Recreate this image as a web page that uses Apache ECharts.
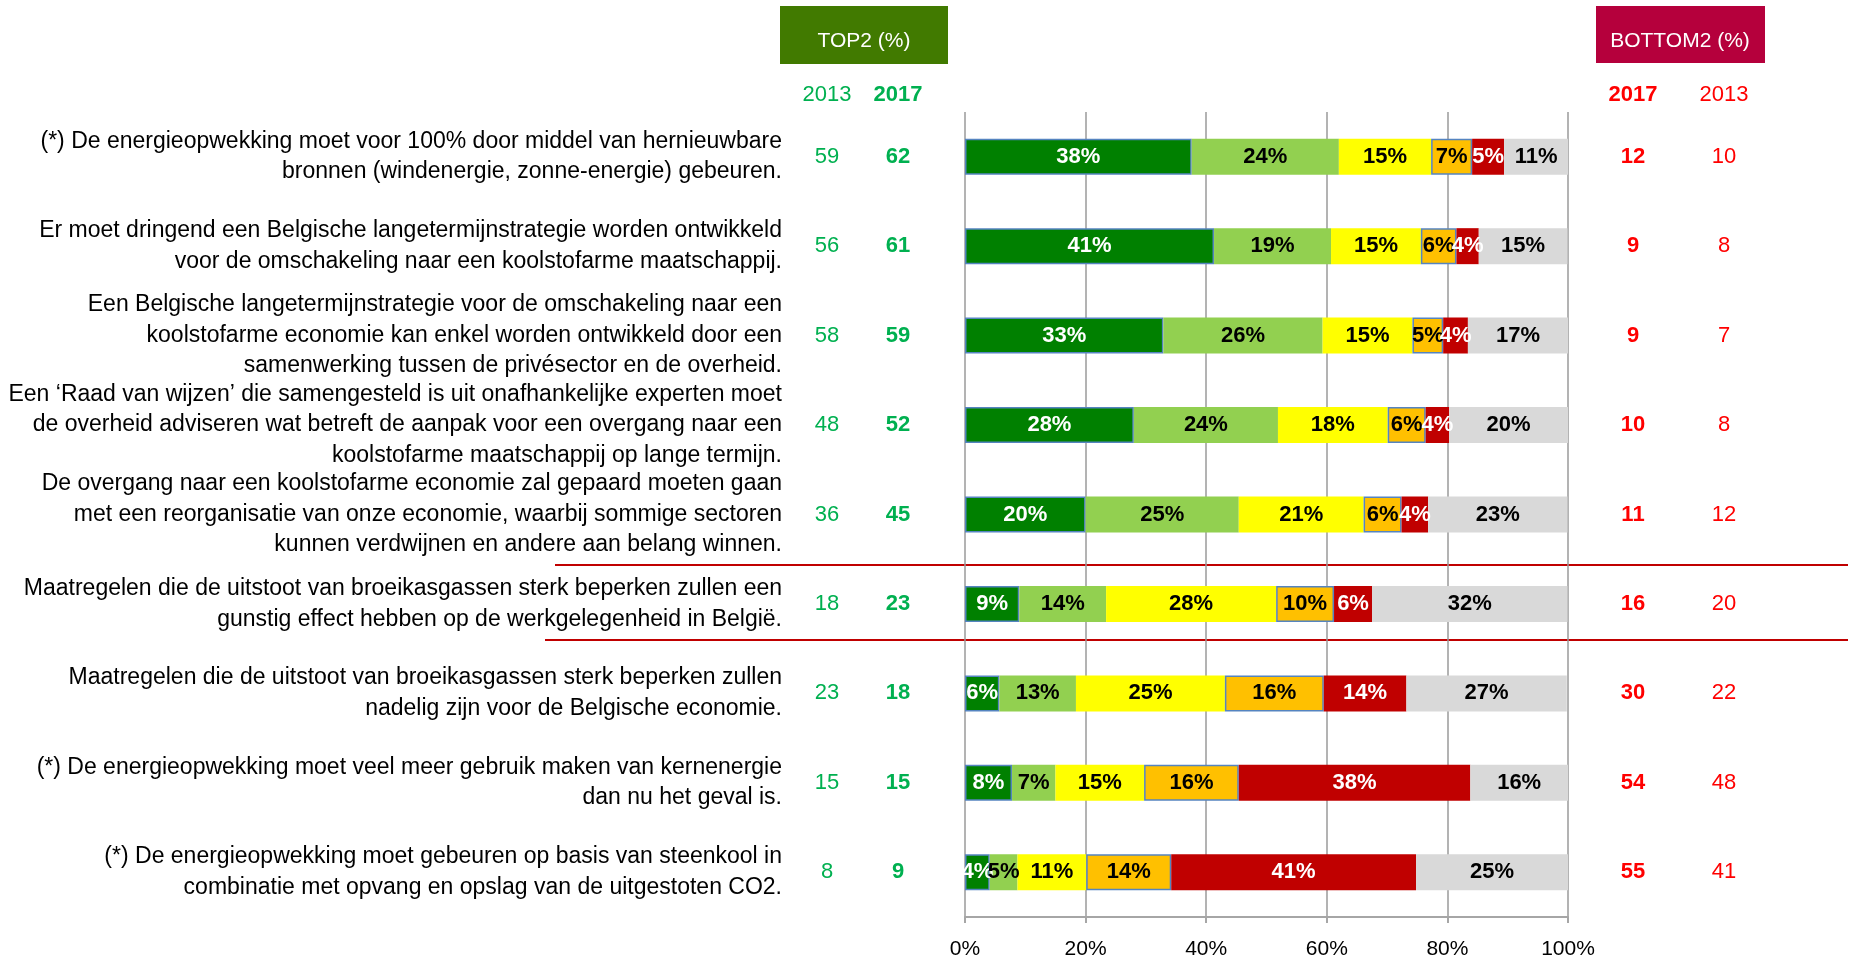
<!DOCTYPE html>
<html>
<head>
<meta charset="utf-8">
<title>Klimaat stellingen</title>
<script src="https://cdn.jsdelivr.net/npm/echarts@6/dist/echarts.min.js"></script>
<style>
  html, body { margin: 0; padding: 0; background: #fff; }
  #main { width: 1853px; height: 961px; }
</style>
</head>
<body>
<div id="main"></div>
<script>
  // statements, top to bottom
  const statements = [
    "(*) De energieopwekking moet voor 100% door middel van hernieuwbare\nbronnen (windenergie, zonne-energie) gebeuren.",
    "Er moet dringend een Belgische langetermijnstrategie worden ontwikkeld\nvoor de omschakeling naar een koolstofarme maatschappij.",
    "Een Belgische langetermijnstrategie voor de omschakeling naar een\nkoolstofarme economie kan enkel worden ontwikkeld door een\nsamenwerking tussen de privésector en de overheid.",
    "Een ‘Raad van wijzen’ die samengesteld is uit onafhankelijke experten moet\nde overheid adviseren wat betreft de aanpak voor een overgang naar een\nkoolstofarme maatschappij op lange termijn.",
    "De overgang naar een koolstofarme economie zal gepaard moeten gaan\nmet een reorganisatie van onze economie, waarbij sommige sectoren\nkunnen verdwijnen en andere aan belang winnen.",
    "Maatregelen die de uitstoot van broeikasgassen sterk beperken zullen een\ngunstig effect hebben op de werkgelegenheid in België.",
    "Maatregelen die de uitstoot van broeikasgassen sterk beperken zullen\nnadelig zijn voor de Belgische economie.",
    "(*) De energieopwekking moet veel meer gebruik maken van kernenergie\ndan nu het geval is.",
    "(*) De energieopwekking moet gebeuren op basis van steenkool in\ncombinatie met opvang en opslag van de uitgestoten CO2."
  ];

  // segment shares (%)
  const helemaalEens = [37.6, 41.3, 32.9, 28.0, 20.0, 9.0, 5.7, 7.8, 4.1];
  const eens = [24.4, 19.4, 26.4, 23.9, 25.4, 14.4, 12.7, 7.2, 4.6];
  const neutraal = [15.3, 14.9, 14.9, 18.2, 20.7, 28.2, 24.7, 14.7, 11.4];
  const oneens = [6.8, 5.9, 5.1, 6.3, 6.3, 9.6, 16.4, 15.7, 14.1];
  const helemaalOneens = [5.3, 3.7, 4.1, 3.9, 4.4, 6.3, 13.7, 38.4, 40.6];
  const weetNiet = [10.6, 14.7, 16.6, 19.8, 23.1, 32.4, 26.6, 16.2, 25.2];

  const top2_2013 = [59, 56, 58, 48, 36, 18, 23, 15, 8];
  const top2_2017 = [62, 61, 59, 52, 45, 23, 18, 15, 9];
  const bottom2_2017 = [12, 9, 9, 10, 11, 16, 30, 54, 55];
  const bottom2_2013 = [10, 8, 7, 8, 12, 20, 22, 48, 41];

  const FONT = "'Liberation Sans', Arial, sans-serif";
  const GREEN = "#00b050";
  const RED = "#ff0000";

  const chart = echarts.init(document.getElementById("main"));

  function segment(name, data, color, textColor, bordered) {
    return {
      name: name,
      type: "bar",
      stack: "total",
      barWidth: 36,
      data: data,
      itemStyle: {
        color: color,
        borderColor: bordered ? "#5584c0" : color,
        borderWidth: bordered ? 1.5 : 0
      },
      label: {
        show: true,
        position: "inside",
        formatter: p => Math.round(p.value) + "%",
        color: textColor,
        fontFamily: FONT,
        fontWeight: "bold",
        fontSize: 22
      },
      silent: true
    };
  }

  // extra category axes just to carry the number columns
  function numberAxis(position, values, margin, color, bold) {
    return {
      type: "category",
      data: statements,
      inverse: true,
      position: position,
      axisLine: { show: false },
      axisTick: { show: false },
      splitLine: { show: false },
      axisLabel: {
        margin: margin,
        align: "center",
        color: color,
        fontFamily: FONT,
        fontSize: 22,
        fontWeight: bold ? "bold" : "normal",
        formatter: (v, i) => String(values[i])
      }
    };
  }

  function headerText(x, text, color, bold) {
    return {
      type: "text",
      x: x,
      y: 95,
      style: {
        text: text,
        fill: color,
        font: (bold ? "bold " : "") + "22px " + FONT,
        textAlign: "center",
        textVerticalAlign: "middle"
      }
    };
  }

  const option = {
    animation: false,
    backgroundColor: "#fff",
    grid: {
      left: 965, right: 285, top: 112, bottom: 44,
      containLabel: false,
      outerBoundsMode: "none"
    },
    xAxis: {
      type: "value",
      min: 0,
      max: 100,
      interval: 20,
      axisLine: { show: true, lineStyle: { color: "#a6a6a6", width: 2 } },
      axisTick: { show: true, length: 6, lineStyle: { color: "#a6a6a6", width: 2 } },
      splitLine: { show: true, lineStyle: { color: "#9a9a9a", width: 1.5 } },
      axisLabel: {
        formatter: "{value}%",
        margin: 22,
        color: "#000",
        fontFamily: FONT,
        fontSize: 21
      }
    },
    yAxis: [
      {
        type: "category",
        data: statements,
        inverse: true,
        axisLine: { show: false },
        axisTick: { show: false },
        axisLabel: {
          margin: 183,
          align: "right",
          color: "#000",
          fontFamily: FONT,
          fontSize: 23,
          lineHeight: 30.5
        }
      },
      numberAxis("left", top2_2013, 138, GREEN, false),
      numberAxis("left", top2_2017, 67, GREEN, true),
      numberAxis("right", bottom2_2017, 65, RED, true),
      numberAxis("right", bottom2_2013, 156, RED, false)
    ],
    series: [
      segment("Helemaal eens", helemaalEens, "#008000", "#fff", true),
      segment("Eens", eens, "#92d050", "#000", false),
      segment("Neutraal", neutraal, "#ffff00", "#000", false),
      segment("Oneens", oneens, "#ffc000", "#000", true),
      segment("Helemaal oneens", helemaalOneens, "#c00000", "#fff", false),
      segment("Weet niet", weetNiet, "#d9d9d9", "#000", false)
    ],
    graphic: [
      { type: "rect", shape: { x: 780, y: 6, width: 168, height: 58 }, style: { fill: "#417a00" } },
      {
        type: "text", x: 864, y: 41,
        style: { text: "TOP2 (%)", fill: "#fff", font: "21px " + FONT, textAlign: "center", textVerticalAlign: "middle" }
      },
      { type: "rect", shape: { x: 1596, y: 6, width: 169, height: 57 }, style: { fill: "#b5003c" } },
      {
        type: "text", x: 1680, y: 41,
        style: { text: "BOTTOM2 (%)", fill: "#fff", font: "21px " + FONT, textAlign: "center", textVerticalAlign: "middle" }
      },
      headerText(827, "2013", GREEN, false),
      headerText(898, "2017", GREEN, true),
      headerText(1633, "2017", RED, true),
      headerText(1724, "2013", RED, false),
      // red separators round the werkgelegenheid row
      { type: "line", shape: { x1: 555, y1: 565, x2: 1848, y2: 565 }, style: { stroke: "#c00000", lineWidth: 2 } },
      { type: "line", shape: { x1: 545, y1: 640, x2: 1848, y2: 640 }, style: { stroke: "#c00000", lineWidth: 2 } }
    ]
  };

  chart.setOption(option);
</script>
</body>
</html>
